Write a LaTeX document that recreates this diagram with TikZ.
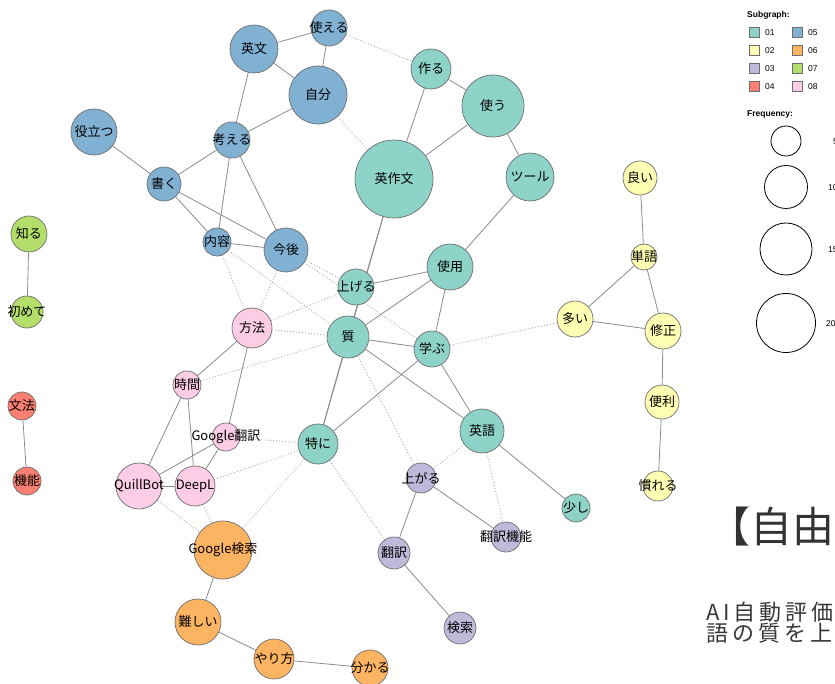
\documentclass[tikz,border=0pt]{standalone}
\usepackage{fontspec}
\setmainfont{Liberation Sans}
\newfontfamily\jp{Noto Sans CJK JP}
\newfontfamily\jpwide[LetterSpace=18]{Noto Sans CJK JP}
\usetikzlibrary{backgrounds}
\definecolor{c01}{HTML}{8DD3C7}
\definecolor{c02}{HTML}{FFFFB3}
\definecolor{c03}{HTML}{BEBADA}
\definecolor{c04}{HTML}{FB8072}
\definecolor{c05}{HTML}{80B1D3}
\definecolor{c06}{HTML}{FDB462}
\definecolor{c07}{HTML}{B3DE69}
\definecolor{c08}{HTML}{FCCDE5}
\definecolor{edgecol}{HTML}{8C8C8C}
\definecolor{bordcol}{HTML}{6E6E6E}
\tikzset{
  vtx/.style={circle, draw=bordcol, line width=0.7pt, inner sep=0pt},
  vlbl/.style={inner sep=0pt, font=\jp\fontsize{13}{13}\selectfont, text=black},
  solidedge/.style={draw=edgecol, line width=0.8pt},
  dotedge/.style={draw=edgecol!75, line width=0.8pt, dash pattern=on 1pt off 2pt},
  legsq/.style={draw=bordcol, line width=0.6pt, minimum size=10pt, inner sep=0pt},
  legtxt/.style={inner sep=0pt, anchor=west, font=\fontsize{8.5}{8.5}\selectfont},
  leghead/.style={inner sep=0pt, anchor=west, font=\bfseries\fontsize{8.5}{8.5}\selectfont},
  legcirc/.style={circle, draw=black, line width=0.8pt, inner sep=0pt},
}
\def\vlist{tsukaeru/329/28/18/c05/使える,
eibun/254/49/24/c05/英文,
jibun/318/95/29/c05/自分,
tsukuru/431/69/20/c01/作る,
tsukau/493/106/31/c01/使う,
eisakubun/394/179/39/c01/英作文,
tool/530/177/24/c01/ツール,
yakudatsu/94/132/23/c05/役立つ,
kangaeru/232/140/18/c05/考える,
kaku/164/184/17/c05/書く,
naiyou/217/242/14/c05/内容,
kongo/286/250/22/c05/今後,
ageru/356/287/18/c01/上げる,
shiyou/450/267/23/c01/使用,
shitsu/348/337/21/c01/質,
manabu/432/349/18/c01/学ぶ,
houhou/252/328/20/c08/方法,
jikan/187/385/14/c08/時間,
gtrans/226/437/14/c08/Google翻訳,
tokuni/318/444/20/c01/特に,
eigo/482/431/22/c01/英語,
quill/139/486/23/c08/QuillBot,
deepl/195/486/20/c08/DeepL,
agaru/421/478/15/c03/上がる,
sukoshi/576/508/14/c01/少し,
honyakukinou/506/537/15/c03/翻訳機能,
gsearch/223/550/29/c06/Google検索,
honyaku/394/553/16/c03/翻訳,
kensaku/460/628/16/c03/検索,
muzukashii/198/622/23/c06/難しい,
yarikata/274/659/20/c06/やり方,
wakaru/370/668/18/c06/分かる,
yoi/640/178/17/c02/良い,
tango/644/257/13/c02/単語,
ooi/575/319/18/c02/多い,
shusei/663/331/18/c02/修正,
benri/662/402/17/c02/便利,
nareru/658/486/15/c02/慣れる,
shiru/29/234/18/c07/知る,
hajimete/27/312/16/c07/初めて,
bunpou/22/406/14/c04/文法,
kinou/27/481/14/c04/機能}
\begin{document}
\begin{tikzpicture}[x=1pt,y=-1pt]
\clip (0,0) rectangle (835,684);
% vertices
\foreach \n/\x/\y/\r/\c/\t in \vlist {
  \node[vtx, fill=\c, minimum size={2*\r pt}] (\n) at (\x,\y) {};
}
\foreach \n/\x/\y/\r/\c/\t in \vlist {
  \node[vlbl] (\n-l) at (\n) {\t};
}
\begin{pgfonlayer}{background}
\fill[white] (0,0) rectangle (835,684);
\foreach \a/\b in {eibun/tsukaeru, tsukaeru/jibun, eibun/jibun, eibun/kangaeru,
  jibun/kangaeru, kangaeru/kaku, yakudatsu/kaku, kangaeru/naiyou, kangaeru/kongo,
  kaku/naiyou, kaku/kongo, naiyou/kongo, tsukuru/eisakubun, tsukuru/tsukau,
  tsukau/eisakubun, tsukau/tool, tool/shiyou, eisakubun/shitsu, eisakubun/tokuni,
  shitsu/tokuni, ageru/shiyou, shitsu/shiyou, shitsu/manabu, shiyou/manabu,
  shitsu/eigo, manabu/eigo, manabu/tokuni, eigo/sukoshi, agaru/honyaku,
  agaru/honyakukinou, honyaku/kensaku, houhou/jikan, houhou/gtrans, jikan/quill,
  jikan/deepl, gtrans/quill, gtrans/deepl, quill/deepl, gsearch/muzukashii,
  muzukashii/yarikata, yarikata/wakaru, yoi/tango, tango/ooi, tango/shusei,
  ooi/shusei, shusei/benri, benri/nareru, shiru/hajimete, bunpou/kinou}
  \draw[solidedge] (\a) -- (\b);
\foreach \a/\b in {tsukaeru/tsukuru, jibun/eisakubun, naiyou/houhou, naiyou/shitsu,
  kongo/houhou, kongo/ageru, kongo/manabu, houhou/ageru, houhou/shitsu,
  jikan/shitsu, gtrans/tokuni, deepl/tokuni, tokuni/gsearch, quill/gsearch,
  deepl/gsearch, tokuni/honyaku, shitsu/agaru, eigo/agaru, eigo/honyakukinou,
  manabu/ooi}
  \draw[dotedge] (\a) -- (\b);
\end{pgfonlayer}
% legend
\node[leghead] (lgsub) at (747,15) {Subgraph:};
\foreach \i/\c/\y in {1/c01/32, 2/c02/50, 3/c03/68, 4/c04/86} {
  \node[legsq, fill=\c] (sqa\i) at (754.5,\y) {};
  \node[legtxt] (sqat\i) at (765,\y+0.5) {0\i};
}
\foreach \i/\c/\y in {5/c05/32, 6/c06/50, 7/c07/68, 8/c08/86} {
  \node[legsq, fill=\c] (sqb\i) at (797.5,\y) {};
  \node[legtxt] (sqbt\i) at (808,\y+0.5) {0\i};
}
\node[leghead] (lgfreq) at (747,114) {Frequency:};
\foreach \i/\y/\r/\v/\lx in {1/141/15/5/833, 2/187/21.5/10/828, 3/249/26/15/828, 4/323/29.5/20/826} {
  \node[legcirc, minimum size={2*\r pt}] (fc\i) at (786,\y) {};
  \node[legtxt] (fct\i) at (\lx,\y+1) {\v};
}
% side text
\node[inner sep=0pt, anchor=west, text=black!80, font=\jp\fontsize{42}{42}\selectfont] (title) at (708,527) {【自由記述】};
\node[inner sep=0pt, anchor=west, text=black!78, font=\jpwide\fontsize{22}{22}\selectfont] (sub1) at (706,612) {AI自動評価};
\node[inner sep=0pt, anchor=west, text=black!78, font=\jpwide\fontsize{22}{22}\selectfont] (sub2) at (706,633) {語の質を上げる};
\end{tikzpicture}
\end{document}
